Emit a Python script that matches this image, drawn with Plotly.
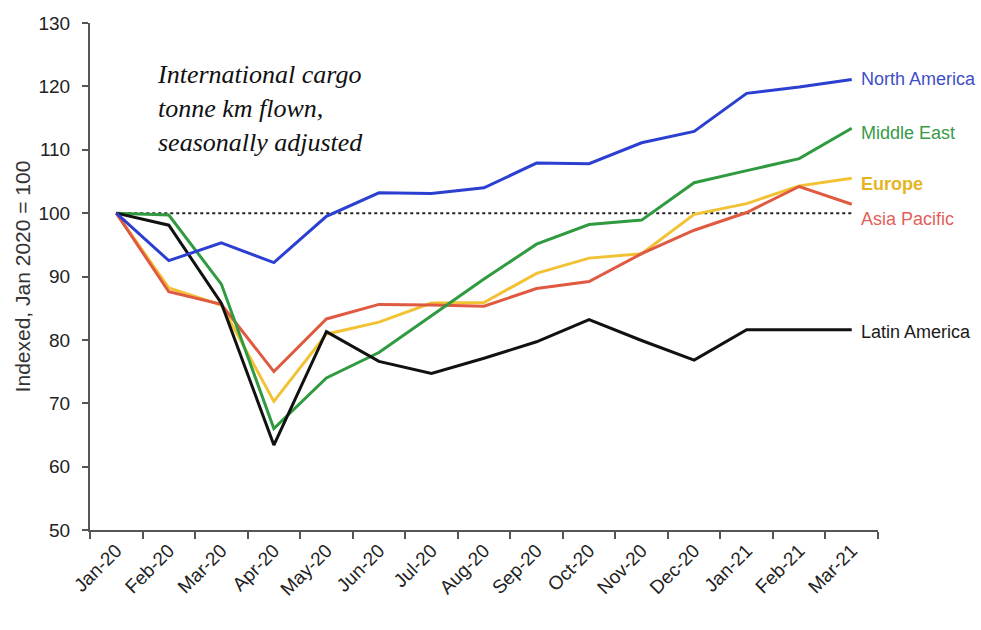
import plotly.graph_objects as go

months = ["Jan-20", "Feb-20", "Mar-20", "Apr-20", "May-20", "Jun-20", "Jul-20",
          "Aug-20", "Sep-20", "Oct-20", "Nov-20", "Dec-20", "Jan-21", "Feb-21", "Mar-21"]

north_america = [100, 92.5, 95.3, 92.2, 99.5, 103.2, 103.1, 104.0, 107.9, 107.8, 111.1, 112.9, 118.9, 119.9, 121.1]
middle_east   = [100, 99.7, 88.8, 66.0, 74.0, 78.0, 83.8, 89.6, 95.1, 98.2, 98.9, 104.8, 106.7, 108.6, 113.4]
europe        = [100, 88.2, 85.5, 70.3, 80.9, 82.8, 85.8, 85.9, 90.5, 92.9, 93.6, 99.8, 101.5, 104.3, 105.5]
asia_pacific  = [100, 87.6, 85.6, 75.0, 83.3, 85.6, 85.5, 85.3, 88.1, 89.2, 93.6, 97.3, 100.1, 104.2, 101.4]
latin_america = [100, 98.1, 85.8, 63.4, 81.3, 76.6, 74.7, 77.1, 79.7, 83.2, 79.9, 76.8, 81.6, 81.6, 81.6]

baseline = [100] * len(months)

# name, values, line colour, label colour, label y position, bold label
series = [
    ("North America", north_america, "#2b3fd1", "#3f4fc6", 121.1, False),
    ("Middle East", middle_east, "#2f9a3f", "#3a9a48", 112.6, False),
    ("Europe", europe, "#f2c234", "#e6b41f", 104.6, True),
    ("Asia Pacific", asia_pacific, "#e05a42", "#e35f5a", 99.0, False),
    ("Latin America", latin_america, "#111111", "#1a1a1a", 81.2, False),
]

fig = go.Figure()

# reference level at January 2020
fig.add_trace(go.Scatter(x=months, y=baseline, mode="lines",
                         line=dict(color="#222222", width=2, dash="dot"),
                         hoverinfo="skip", showlegend=False))

# draw order: light lines first, darker on top
for name, vals, col, _, _, _ in [series[2], series[3], series[1], series[4], series[0]]:
    fig.add_trace(go.Scatter(x=months, y=vals, mode="lines", name=name,
                             line=dict(color=col, width=3), showlegend=False))

label_font = "Liberation Sans, Arial, sans-serif"
for name, vals, _, lcol, ypos, bold in series:
    fig.add_annotation(x=1.0, xref="paper", y=ypos, yref="y",
                       text=f"<b>{name}</b>" if bold else name,
                       showarrow=False, xanchor="left", yanchor="middle",
                       xshift=-19,
                       font=dict(family=label_font, size=18, color=lcol))

fig.add_annotation(x=0.083, xref="paper", y=0.93, yref="paper",
                   text="<i>International cargo<br>tonne km flown,<br>seasonally adjusted</i>",
                   showarrow=False, xanchor="left", yanchor="top", align="left",
                   font=dict(family="Liberation Serif, Times New Roman, serif",
                             size=26, color="#111111"),
                   )

fig.update_layout(
    width=981, height=630,
    margin=dict(l=90, r=103, t=23, b=100),
    paper_bgcolor="white", plot_bgcolor="white",
    font=dict(family="Liberation Sans, Arial, sans-serif", color="#222222"),
    xaxis=dict(
        type="category", range=[-0.5, 14.5],
        tickson="boundaries", ticks="outside", ticklen=7, tickwidth=1.5,
        tickcolor="#555555", showline=True, linecolor="#555555", linewidth=2,
        showgrid=False, zeroline=False, tickangle=-45,
        tickfont=dict(size=19, color="#222222"),
    ),
    yaxis=dict(
        range=[50, 130], dtick=10, ticks="outside", ticklen=6, tickwidth=1.5,
        tickcolor="#555555", showline=True, linecolor="#555555", linewidth=2,
        showgrid=False, zeroline=False, ticklabelstandoff=8,
        tickfont=dict(size=19, color="#222222"),
        title=dict(text="Indexed, Jan 2020 = 100", standoff=2,
                   font=dict(size=21, color="#333333")),
    ),
)

fig.write_html("out.html")
